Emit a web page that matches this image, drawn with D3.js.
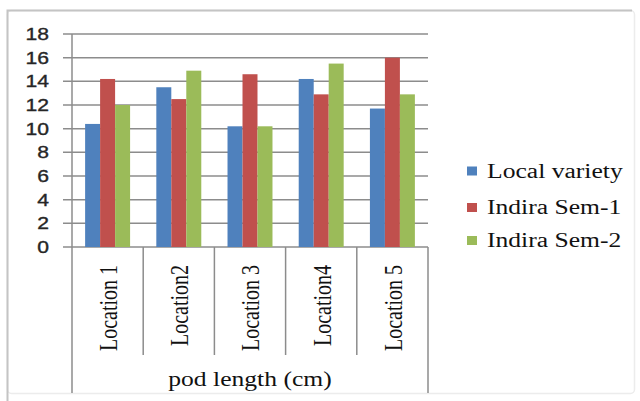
<!DOCTYPE html>
<html>
<head>
<meta charset="utf-8">
<script src="https://cdn.jsdelivr.net/npm/d3@7"></script>
<style>
  html, body { margin: 0; padding: 0; background: #fff; }
  svg { display: block; }
</style>
</head>
<body>
<svg id="chart" width="640" height="401"></svg>
<script>
// Pod length (cm) of three varieties across five locations
const categories = ["Location 1", "Location2", "Location 3", "Location4", "Location 5"];
const seriesNames = ["Local variety", "Indira Sem-1", "Indira Sem-2"];
const localVariety = [10.4, 13.5, 10.2, 14.2, 11.7];
const indiraSem1  = [14.2, 12.5, 14.6, 12.9, 16.0];
const indiraSem2  = [12.0, 14.9, 10.2, 15.5, 12.9];
const yTicks = [0, 2, 4, 6, 8, 10, 12, 14, 16, 18];
const axisTitle = "pod length (cm)";
const colors = ["#4F81BD", "#C0504D", "#9BBB59"];

const seriesValues = [localVariety, indiraSem1, indiraSem2];
const rows = categories.map((c, i) => ({
  category: c,
  values: seriesNames.map((s, j) => ({ series: s, value: seriesValues[j][i] }))
}));

const svg = d3.select("#chart");
const stretch = 1.28;           // wide glyphs used throughout the chart
const plotLeft = 72, plotRight = 428, plotTop = 34, plotBase = 247;

// chart frame
svg.append("rect").attr("x", 7.5).attr("y", 10.5).attr("width", 627).attr("height", 383)
  .attr("rx", 4).attr("fill", "none").attr("stroke", "#ececec").attr("stroke-width", 1.5);
svg.append("path").attr("d", "M7.5,401 V10.5 H632")
  .attr("fill", "none").attr("stroke", "#c4c4c4").attr("stroke-width", 2);

const x0 = d3.scaleBand().domain(categories).range([plotLeft, plotRight]).padding(0);
const x1 = d3.scaleBand().domain(seriesNames).range([0, x0.bandwidth()])
  .paddingInner(0).paddingOuter(0.875);
const y = d3.scaleLinear().domain([0, 18]).range([plotBase, plotTop]);
const color = d3.scaleOrdinal().domain(seriesNames).range(colors);

// gridlines with left tick marks
svg.append("g").selectAll("line").data(yTicks).join("line")
  .attr("x1", plotLeft - 9).attr("x2", plotRight)
  .attr("y1", d => y(d)).attr("y2", d => y(d))
  .attr("stroke", "#8c8c8c").attr("stroke-width", 1.5);

// y tick labels
svg.append("g").selectAll("text").data(yTicks).join("text")
  .attr("transform", d => `translate(49,${y(d)}) scale(${stretch},1)`)
  .attr("text-anchor", "end").attr("dy", "0.36em")
  .attr("font-family", "'Liberation Sans', Arial, sans-serif")
  .attr("font-size", 16.5).attr("fill", "#262626")
  .attr("stroke", "#262626").attr("stroke-width", 0.35)
  .text(d => d);

// bars
svg.append("g").selectAll("g").data(rows).join("g")
  .attr("transform", d => `translate(${x0(d.category)},0)`)
  .selectAll("rect").data(d => d.values).join("rect")
  .attr("x", d => x1(d.series)).attr("width", x1.bandwidth())
  .attr("y", d => y(d.value)).attr("height", d => y(0) - y(d.value))
  .attr("fill", d => color(d.series));

// y axis line
svg.append("line").attr("x1", plotLeft).attr("x2", plotLeft).attr("y1", plotTop).attr("y2", plotBase)
  .attr("stroke", "#8c8c8c").attr("stroke-width", 1.5);

// category separators (two-level category axis)
const bounds = categories.map(c => x0(c)).concat([plotRight]);
svg.append("g").selectAll("line").data(bounds).join("line")
  .attr("x1", d => d).attr("x2", d => d)
  .attr("y1", plotBase)
  .attr("y2", (d, i) => (i === 0 || i === bounds.length - 1) ? 393 : 355)
  .attr("stroke", "#8c8c8c").attr("stroke-width", 1.5);

// rotated category labels
svg.append("g").selectAll("text").data(categories).join("text")
  .attr("transform", d => `translate(${x0(d) + x0.bandwidth() / 2 + 1},265) scale(${stretch},1) rotate(-90)`)
  .attr("text-anchor", "end").attr("dy", "0.33em")
  .attr("font-family", "'Liberation Serif', 'Times New Roman', serif")
  .attr("font-size", 20).attr("fill", "#111")
  .text(d => d);

// group title
svg.append("text")
  .attr("transform", `translate(${(plotLeft + plotRight) / 2},386) scale(${stretch},1)`)
  .attr("text-anchor", "middle")
  .attr("font-family", "'Liberation Serif', 'Times New Roman', serif")
  .attr("font-size", 20).attr("fill", "#111")
  .text(axisTitle);

// legend
const legendY = [171, 207.5, 240.5];
const legend = svg.append("g").selectAll("g").data(seriesNames).join("g")
  .attr("transform", (d, i) => `translate(467,${legendY[i]})`);
legend.append("rect").attr("x", 0).attr("y", -4.5).attr("width", 10).attr("height", 9)
  .attr("fill", d => color(d));
legend.append("text")
  .attr("transform", `translate(20,0) scale(${stretch},1)`)
  .attr("dy", "0.33em")
  .attr("font-family", "'Liberation Serif', 'Times New Roman', serif")
  .attr("font-size", 20).attr("fill", "#111")
  .text(d => d);
</script>
</body>
</html>
